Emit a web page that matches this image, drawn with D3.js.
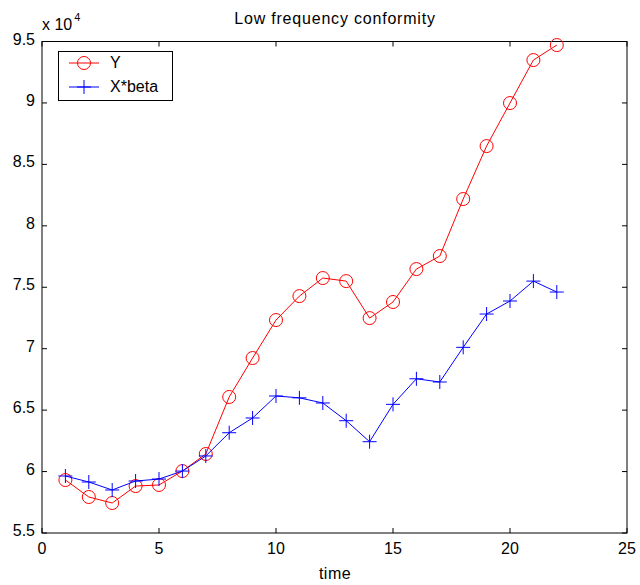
<!DOCTYPE html>
<html>
<head>
<meta charset="utf-8">
<script src="https://cdn.jsdelivr.net/npm/d3@7"></script>
<style>
  body { margin: 0; background: #fff; }
  svg text { font-family: "Liberation Sans", Arial, sans-serif; fill: #000; }
</style>
</head>
<body>
<svg id="chart" width="640" height="585"></svg>
<script>
// time index and the two series
var time = [1,2,3,4,5,6,7,8,9,10,11,12,13,14,15,16,17,18,19,20,21,22];
var yValues = [59310,57930,57440,58820,58910,60040,61430,66070,69240,72330,74280,75750,
               75500,72490,73800,76480,77540,82180,86490,89990,93490,94710];
var xBetaValues = [59640,59150,58500,59230,59390,60040,61270,63160,64360,66150,66000,65580,
                   64140,62430,65470,67550,67290,70110,72820,73880,75500,74610];
var xTicks = [0,5,10,15,20,25];
var yTicks = [55000,60000,65000,70000,75000,80000,85000,90000,95000];
var seriesNames = ["Y", "X*beta"];

var svg = d3.select("#chart");
var plotLeft = 42, plotRight = 627, plotTop = 41.5, plotBottom = 533;

var x = d3.scaleLinear().domain([0, 25]).range([plotLeft, plotRight]);
var y = d3.scaleLinear().domain([55000, 95000]).range([plotBottom, plotTop]);

// ticks pointing inwards on all four sides
var g = svg.append("g");
g.selectAll(".xt").data(xTicks).enter().append("line")
    .attr("x1", d => x(d)).attr("x2", d => x(d))
    .attr("y1", plotBottom).attr("y2", plotBottom - 5)
    .attr("stroke", "#000");
g.selectAll(".xt2").data(xTicks).enter().append("line")
    .attr("x1", d => x(d)).attr("x2", d => x(d))
    .attr("y1", plotTop).attr("y2", plotTop + 5)
    .attr("stroke", "#000");
g.selectAll(".yt").data(yTicks).enter().append("line")
    .attr("x1", plotLeft).attr("x2", plotLeft + 5)
    .attr("y1", d => y(d)).attr("y2", d => y(d))
    .attr("stroke", "#000");
g.selectAll(".yt2").data(yTicks).enter().append("line")
    .attr("x1", plotRight).attr("x2", plotRight - 5)
    .attr("y1", d => y(d)).attr("y2", d => y(d))
    .attr("stroke", "#000");

g.append("rect")
    .attr("x", plotLeft).attr("y", plotTop)
    .attr("width", plotRight - plotLeft).attr("height", plotBottom - plotTop)
    .attr("fill", "none").attr("stroke", "#000").attr("stroke-width", 1);

// tick labels
g.selectAll(".xl").data(xTicks).enter().append("text")
    .attr("x", d => x(d)).attr("y", plotBottom + 21)
    .attr("text-anchor", "middle").attr("font-size", 16)
    .text(d => d);
g.selectAll(".yl").data(yTicks).enter().append("text")
    .attr("x", plotLeft - 7).attr("y", d => y(d) + 3)
    .attr("text-anchor", "end").attr("font-size", 16)
    .text(d => d / 1e4);

var exp = g.append("text").attr("x", plotLeft).attr("y", 30).attr("font-size", 16);
exp.append("tspan").text("x 10");
exp.append("tspan").attr("dx", 2).attr("dy", -9).attr("font-size", 11).text("4");

svg.append("text").attr("x", 335).attr("y", 24)
    .attr("text-anchor", "middle").attr("font-size", 16)
    .attr("letter-spacing", 0.8)
    .text("Low frequency conformity");
svg.append("text").attr("x", 335).attr("y", 579)
    .attr("text-anchor", "middle").attr("font-size", 16)
    .attr("letter-spacing", 0.5)
    .text("time");

// series
var line = d3.line().x(d => x(d[0])).y(d => y(d[1]));
var yPts = time.map((t, i) => [t, yValues[i]]);
var bPts = time.map((t, i) => [t, xBetaValues[i]]);

svg.append("path").datum(yPts).attr("d", line)
    .attr("fill", "none").attr("stroke", "#ff0000").attr("stroke-width", 1);
svg.selectAll(".circ").data(yPts).enter().append("circle")
    .attr("cx", d => x(d[0])).attr("cy", d => y(d[1])).attr("r", 6.5)
    .attr("fill", "none").attr("stroke", "#ff0000").attr("stroke-width", 1);

svg.append("path").datum(bPts).attr("d", line)
    .attr("fill", "none").attr("stroke", "#0000ff").attr("stroke-width", 1);
function plus(sel, cx, cy, r) {
    sel.append("path")
        .attr("d", "M" + (cx - r) + "," + cy + "H" + (cx + r) + "M" + cx + "," + (cy - r) + "V" + (cy + r))
        .attr("stroke", "#0000ff").attr("stroke-width", 1).attr("fill", "none");
}
bPts.forEach(d => plus(svg, x(d[0]), y(d[1]), 7));

// legend
var lg = svg.append("g");
lg.append("rect").attr("x", 58.5).attr("y", 51.5).attr("width", 114).attr("height", 49)
    .attr("fill", "#fff").attr("stroke", "#000").attr("stroke-width", 1);
lg.append("line").attr("x1", 69).attr("x2", 99).attr("y1", 63).attr("y2", 63)
    .attr("stroke", "#ff0000");
lg.append("circle").attr("cx", 84).attr("cy", 63).attr("r", 6.5)
    .attr("fill", "none").attr("stroke", "#ff0000");
lg.append("line").attr("x1", 69).attr("x2", 99).attr("y1", 87).attr("y2", 87)
    .attr("stroke", "#0000ff");
plus(lg, 84, 87, 7);
lg.selectAll(".lt").data(seriesNames).enter().append("text")
    .attr("x", 110).attr("y", (d, i) => 68 + i * 24)
    .attr("font-size", 16).text(d => d);
</script>
</body>
</html>
